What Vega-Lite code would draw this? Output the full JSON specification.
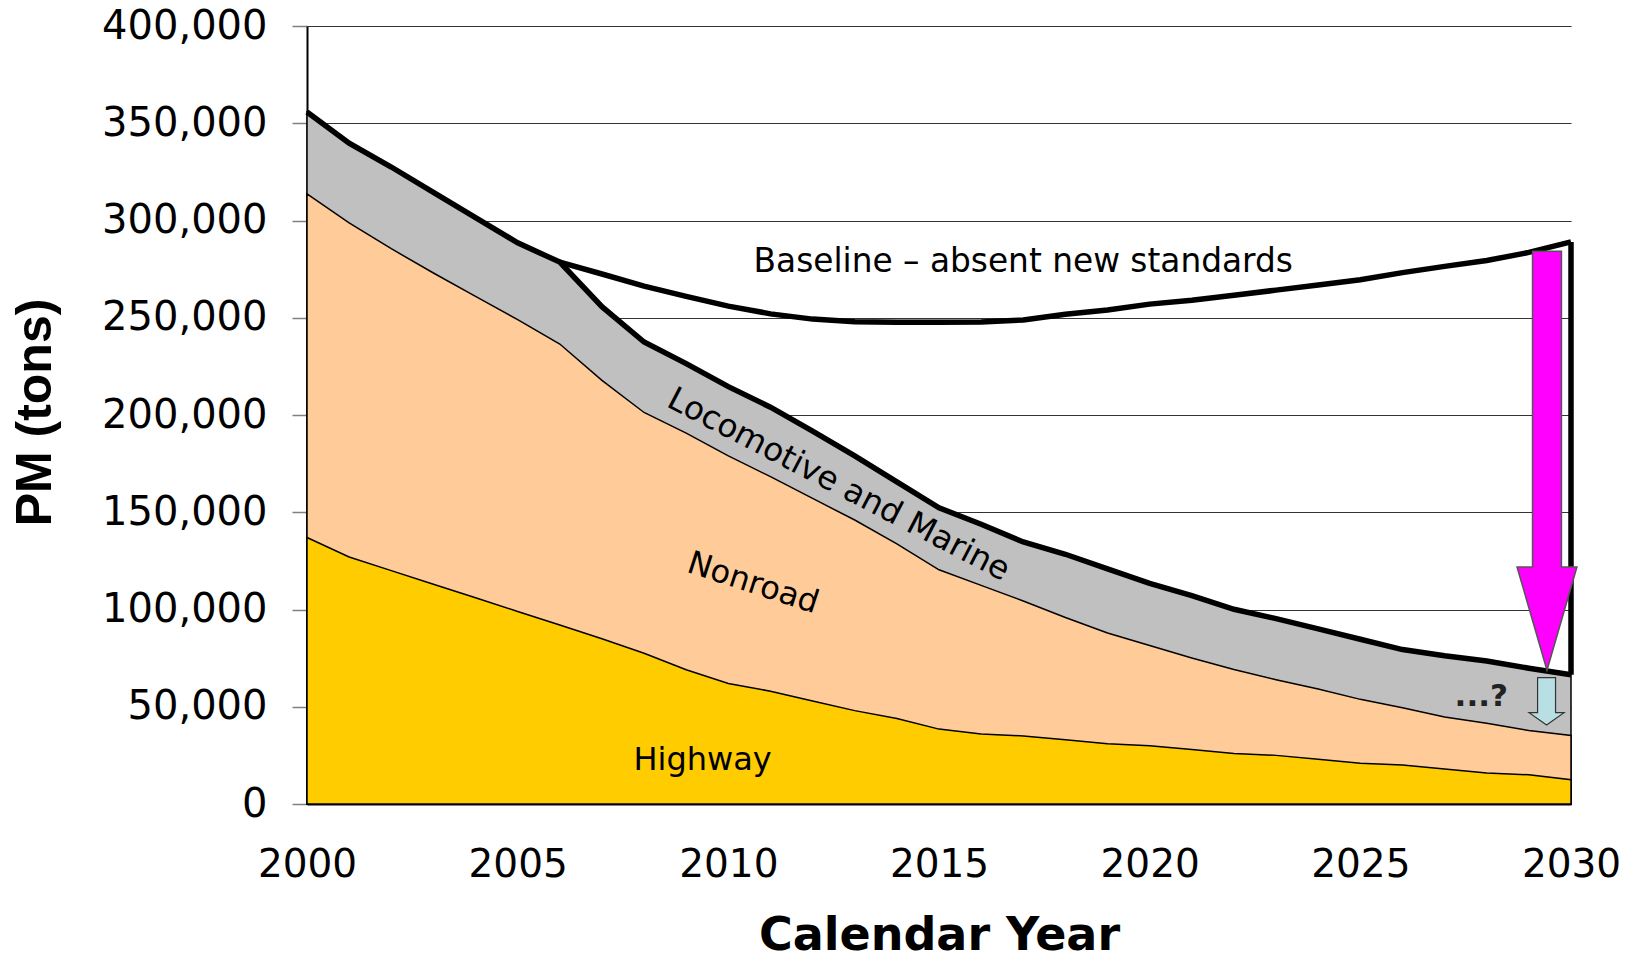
{
  "$schema": "https://vega.github.io/schema/vega-lite/v6.json",
  "width": 1264,
  "height": 778,
  "autosize": "none",
  "padding": {"left": 307, "top": 26, "right": 54, "bottom": 155},
  "background": "white",
  "config": {
    "view": {"stroke": null},
    "font": "DejaVu Sans",
    "axis": {"labelColor": "black", "titleColor": "black"}
  },
  "datasets": {
    "emissions": [
      {"year": 2000, "highway": 137000, "nonroad_top": 313700, "total": 355800},
      {"year": 2001, "highway": 127000, "nonroad_top": 298800, "total": 339800},
      {"year": 2002, "highway": 120000, "nonroad_top": 285500, "total": 327500},
      {"year": 2003, "highway": 113000, "nonroad_top": 273000, "total": 314500},
      {"year": 2004, "highway": 106000, "nonroad_top": 261000, "total": 301500},
      {"year": 2005, "highway": 99000, "nonroad_top": 249000, "total": 288500},
      {"year": 2006, "highway": 92000, "nonroad_top": 236500, "total": 278600},
      {"year": 2007, "highway": 85000, "nonroad_top": 217800, "total": 255700},
      {"year": 2008, "highway": 77500, "nonroad_top": 201300, "total": 237500},
      {"year": 2009, "highway": 69000, "nonroad_top": 190700, "total": 226400},
      {"year": 2010, "highway": 62000, "nonroad_top": 179000, "total": 214600},
      {"year": 2011, "highway": 58000, "nonroad_top": 168300, "total": 204000},
      {"year": 2012, "highway": 53000, "nonroad_top": 157100, "total": 191700},
      {"year": 2013, "highway": 48000, "nonroad_top": 146000, "total": 179000},
      {"year": 2014, "highway": 44000, "nonroad_top": 133700, "total": 165600},
      {"year": 2015, "highway": 38500, "nonroad_top": 120400, "total": 152300},
      {"year": 2016, "highway": 36000, "nonroad_top": 112400, "total": 143800},
      {"year": 2017, "highway": 35000, "nonroad_top": 104400, "total": 134700},
      {"year": 2018, "highway": 33000, "nonroad_top": 95900, "total": 128400},
      {"year": 2019, "highway": 31000, "nonroad_top": 87900, "total": 120900},
      {"year": 2020, "highway": 30000, "nonroad_top": 81500, "total": 113400},
      {"year": 2021, "highway": 28000, "nonroad_top": 75100, "total": 107100},
      {"year": 2022, "highway": 26000, "nonroad_top": 69200, "total": 100100},
      {"year": 2023, "highway": 25000, "nonroad_top": 63900, "total": 95300},
      {"year": 2024, "highway": 23000, "nonroad_top": 59100, "total": 90000},
      {"year": 2025, "highway": 21000, "nonroad_top": 53800, "total": 84700},
      {"year": 2026, "highway": 20000, "nonroad_top": 49500, "total": 79400},
      {"year": 2027, "highway": 18000, "nonroad_top": 44700, "total": 76200},
      {"year": 2028, "highway": 16000, "nonroad_top": 41500, "total": 73500},
      {"year": 2029, "highway": 15000, "nonroad_top": 37800, "total": 69800},
      {"year": 2030, "highway": 12500, "nonroad_top": 35200, "total": 66500}
    ],
    "baseline": [
      {"year": 2006, "baseline": 278600},
      {"year": 2007, "baseline": 272500},
      {"year": 2008, "baseline": 266300},
      {"year": 2009, "baseline": 261000},
      {"year": 2010, "baseline": 256000},
      {"year": 2011, "baseline": 252000},
      {"year": 2012, "baseline": 249300},
      {"year": 2013, "baseline": 247900},
      {"year": 2014, "baseline": 247700},
      {"year": 2015, "baseline": 247700},
      {"year": 2016, "baseline": 247800},
      {"year": 2017, "baseline": 248900},
      {"year": 2018, "baseline": 251800},
      {"year": 2019, "baseline": 254000},
      {"year": 2020, "baseline": 257000},
      {"year": 2021, "baseline": 259000},
      {"year": 2022, "baseline": 261600},
      {"year": 2023, "baseline": 264200},
      {"year": 2024, "baseline": 266800},
      {"year": 2025, "baseline": 269500},
      {"year": 2026, "baseline": 273200},
      {"year": 2027, "baseline": 276400},
      {"year": 2028, "baseline": 279400},
      {"year": 2029, "baseline": 283600},
      {"year": 2030, "baseline": 289000}
    ],
    "outline": [{"year": 2030, "top": 289000, "bottom": 66500}],
    "arrows": [
      {"arrow": "new standards", "year": 2029.43, "value": 176500},
      {"arrow": "further", "year": 2029.42, "value": 52800}
    ],
    "notes": [
      {"note": "Baseline – absent new standards", "year": 2017.0, "value": 278600},
      {"note": "Locomotive and Marine", "year": 2012.62, "value": 164200},
      {"note": "Nonroad", "year": 2010.59, "value": 113580},
      {"note": "Highway", "year": 2009.39, "value": 22610},
      {"note": "...?", "year": 2027.87, "value": 54990}
    ]
  },
  "encoding": {
    "x": {
      "field": "year",
      "type": "quantitative",
      "scale": {"domain": [2000, 2030], "nice": false, "zero": false},
      "axis": {
        "values": [2000, 2005, 2010, 2015, 2020, 2025, 2030],
        "format": "d",
        "grid": false,
        "ticks": false,
        "domainColor": "black",
        "domainWidth": 2,
        "labelFont": "DejaVu Sans",
        "labelFontSize": 39,
        "labelPadding": 41,
        "labelFlush": false,
        "labelOverlap": false,
        "title": "Calendar Year",
        "titleFont": "DejaVu Sans",
        "titleFontWeight": "bold",
        "titleFontSize": 46,
        "titleBaseline": "alphabetic",
        "titleY": 145
      }
    }
  },
  "layer": [
    {
      "data": {"name": "emissions"},
      "mark": {"type": "area", "fill": "#C0C0C0", "stroke": "black", "strokeWidth": 1.5},
      "encoding": {
        "y": {
          "field": "total",
          "type": "quantitative",
          "stack": null,
          "scale": {"domain": [0, 400000], "nice": false},
          "axis": {
            "values": [0, 50000, 100000, 150000, 200000, 250000, 300000, 350000, 400000],
            "format": ",d",
            "grid": true,
            "gridColor": "#333333",
            "gridWidth": 1,
            "tickSize": 15,
            "tickColor": "#808080",
            "tickWidth": 1.5,
            "domainColor": "black",
            "domainWidth": 2,
            "labelFont": "DejaVu Sans",
            "labelFontSize": 40,
            "labelPadding": 25,
            "labelFlush": false,
            "labelOverlap": false,
            "title": "PM (tons)",
            "titleFont": "Liberation Sans",
            "titleFontWeight": "bold",
            "titleFontSize": 50,
            "titleAngle": 270,
            "titleAlign": "center",
            "titleBaseline": "alphabetic",
            "titleX": -257,
            "titleY": 386
          }
        }
      }
    },
    {
      "data": {"name": "emissions"},
      "mark": {"type": "area", "fill": "#FFCC99", "stroke": "black", "strokeWidth": 1.5},
      "encoding": {"y": {"field": "nonroad_top", "type": "quantitative", "stack": null}}
    },
    {
      "data": {"name": "emissions"},
      "mark": {"type": "area", "fill": "#FFCC00", "stroke": "black", "strokeWidth": 1.5},
      "encoding": {"y": {"field": "highway", "type": "quantitative", "stack": null}}
    },
    {
      "data": {"name": "emissions"},
      "mark": {"type": "line", "color": "black", "strokeWidth": 5.5},
      "encoding": {"y": {"field": "total", "type": "quantitative"}}
    },
    {
      "data": {"name": "baseline"},
      "mark": {"type": "line", "color": "black", "strokeWidth": 5.5},
      "encoding": {"y": {"field": "baseline", "type": "quantitative"}}
    },
    {
      "data": {"name": "outline"},
      "mark": {"type": "rule", "color": "black", "strokeWidth": 5.5},
      "encoding": {
        "y": {"field": "top", "type": "quantitative"},
        "y2": {"field": "bottom"}
      }
    },
    {
      "data": {"name": "notes"},
      "transform": [{"filter": "datum.note === 'Baseline – absent new standards'"}],
      "mark": {"type": "text", "font": "DejaVu Sans", "fontSize": 32.8, "color": "black", "align": "center", "baseline": "middle"},
      "encoding": {
        "y": {"field": "value", "type": "quantitative"},
        "text": {"field": "note"}
      }
    },
    {
      "data": {"name": "notes"},
      "transform": [{"filter": "datum.note === 'Locomotive and Marine'"}],
      "mark": {"type": "text", "font": "DejaVu Sans", "fontSize": 32.5, "color": "black", "align": "center", "baseline": "middle", "angle": 27.5},
      "encoding": {
        "y": {"field": "value", "type": "quantitative"},
        "text": {"field": "note"}
      }
    },
    {
      "data": {"name": "notes"},
      "transform": [{"filter": "datum.note === 'Nonroad'"}],
      "mark": {"type": "text", "font": "DejaVu Sans", "fontSize": 32, "color": "black", "align": "center", "baseline": "middle", "angle": 18},
      "encoding": {
        "y": {"field": "value", "type": "quantitative"},
        "text": {"field": "note"}
      }
    },
    {
      "data": {"name": "notes"},
      "transform": [{"filter": "datum.note === 'Highway'"}],
      "mark": {"type": "text", "font": "DejaVu Sans", "fontSize": 32, "color": "black", "align": "center", "baseline": "middle"},
      "encoding": {
        "y": {"field": "value", "type": "quantitative"},
        "text": {"field": "note"}
      }
    },
    {
      "data": {"name": "notes"},
      "transform": [{"filter": "datum.note === '...?'"}],
      "mark": {"type": "text", "font": "DejaVu Sans", "fontWeight": "bold", "fontSize": 31, "color": "#222222", "align": "center", "baseline": "middle"},
      "encoding": {
        "y": {"field": "value", "type": "quantitative"},
        "text": {"field": "note"}
      }
    },
    {
      "data": {"name": "arrows"},
      "transform": [{"filter": "datum.arrow === 'new standards'"}],
      "mark": {
        "type": "point",
        "filled": true,
        "shape": "M-0.069,-1L0.069,-1L0.069,0.507L0.143,0.507L0,1L-0.143,0.507L-0.069,0.507Z",
        "size": 175561,
        "fill": "#FF00FF",
        "fillOpacity": 1,
        "stroke": "#555555",
        "strokeWidth": 1.5,
        "opacity": 1
      },
      "encoding": {"y": {"field": "value", "type": "quantitative"}}
    },
    {
      "data": {"name": "arrows"},
      "transform": [{"filter": "datum.arrow === 'further'"}],
      "mark": {
        "type": "point",
        "filled": true,
        "shape": "M-0.38,-1L0.38,-1L0.38,0.48L0.74,0.48L0,1L-0.74,0.48L-0.38,0.48Z",
        "size": 2237,
        "fill": "#B7DFE4",
        "fillOpacity": 1,
        "stroke": "#333333",
        "strokeWidth": 1.2,
        "opacity": 1
      },
      "encoding": {"y": {"field": "value", "type": "quantitative"}}
    }
  ]
}
